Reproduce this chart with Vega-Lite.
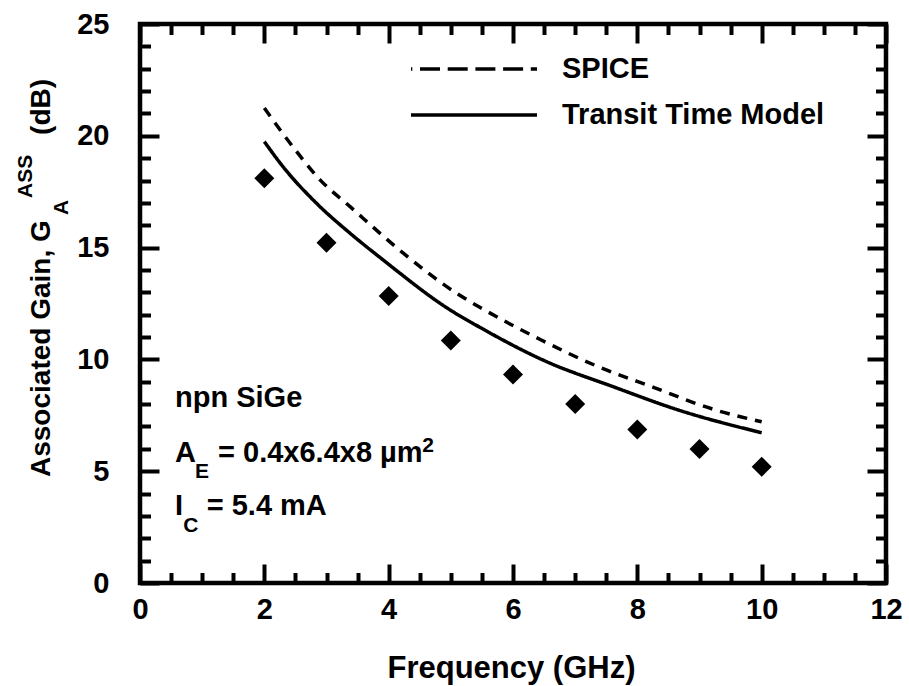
{
  "$schema": "https://vega.github.io/schema/vega-lite/v6.json",
  "width": 746,
  "height": 559,
  "autosize": {"type": "none"},
  "padding": {"left": 140, "top": 24, "right": 23, "bottom": 103},
  "background": "white",
  "config": {
    "view": {"stroke": "black", "strokeWidth": 4.5},
    "font": "Liberation Sans",
    "axis": {
      "grid": false,
      "domain": false,
      "tickColor": "black",
      "tickWidth": 4,
      "labelColor": "black",
      "labelFont": "Liberation Sans",
      "labelFontWeight": "bold",
      "labelFontSize": 29,
      "labelFlush": false,
      "labelOverlap": false,
      "titleColor": "black",
      "titleFont": "Liberation Sans",
      "titleFontWeight": "bold"
    }
  },
  "datasets": {
    "curves": [
      {"f": 2.0, "g": 21.24, "series": "SPICE"},
      {"f": 2.52, "g": 19.29, "series": "SPICE"},
      {"f": 2.9, "g": 18.02, "series": "SPICE"},
      {"f": 3.38, "g": 16.83, "series": "SPICE"},
      {"f": 4.24, "g": 14.74, "series": "SPICE"},
      {"f": 5.09, "g": 12.96, "series": "SPICE"},
      {"f": 5.55, "g": 12.2, "series": "SPICE"},
      {"f": 6.43, "g": 10.9, "series": "SPICE"},
      {"f": 7.35, "g": 9.7, "series": "SPICE"},
      {"f": 8.26, "g": 8.75, "series": "SPICE"},
      {"f": 9.22, "g": 7.77, "series": "SPICE"},
      {"f": 10.0, "g": 7.21, "series": "SPICE"},
      {"f": 2.0, "g": 19.74, "series": "Transit Time Model"},
      {"f": 2.3, "g": 18.62, "series": "Transit Time Model"},
      {"f": 2.84, "g": 16.98, "series": "Transit Time Model"},
      {"f": 3.38, "g": 15.64, "series": "Transit Time Model"},
      {"f": 3.91, "g": 14.45, "series": "Transit Time Model"},
      {"f": 4.99, "g": 12.21, "series": "Transit Time Model"},
      {"f": 5.47, "g": 11.43, "series": "Transit Time Model"},
      {"f": 6.54, "g": 9.9, "series": "Transit Time Model"},
      {"f": 7.61, "g": 8.78, "series": "Transit Time Model"},
      {"f": 8.69, "g": 7.71, "series": "Transit Time Model"},
      {"f": 10.0, "g": 6.72, "series": "Transit Time Model"}
    ],
    "meas": [
      {"f": 2, "g": 18.1},
      {"f": 3, "g": 15.22},
      {"f": 4, "g": 12.84},
      {"f": 5, "g": 10.85},
      {"f": 6, "g": 9.33},
      {"f": 7, "g": 8.0},
      {"f": 8, "g": 6.87},
      {"f": 9, "g": 5.99},
      {"f": 10, "g": 5.2}
    ],
    "notesBig": [
      {"x": 0.563, "y": 7.885, "t": "npn SiGe"},
      {"x": 0.563, "y": 5.425, "t": "A"},
      {"x": 1.255, "y": 5.425, "t": "= 0.4x6.4x8 µm"},
      {"x": 0.563, "y": 3.04, "t": "I"},
      {"x": 1.073, "y": 3.04, "t": "= 5.4 mA"}
    ],
    "notesSmall": [
      {"x": 0.885, "y": 4.68, "t": "E"},
      {"x": 0.697, "y": 2.295, "t": "C"},
      {"x": 4.54, "y": 5.87, "t": "2"}
    ],
    "ytitleBig": [
      {"x": -1.448, "y": 4.74, "t": "Associated Gain, G"},
      {"x": -1.448, "y": 20.04, "t": "(dB)"}
    ],
    "ytitleSmall": [
      {"x": -1.158, "y": 16.46, "t": "A"},
      {"x": -1.742, "y": 17.22, "t": "ASS"}
    ]
  },
  "resolve": {
    "scale": {"x": "shared", "y": "shared"},
    "axis": {"x": "independent", "y": "independent"}
  },
  "layer": [
    {
      "data": {"name": "curves"},
      "transform": [{"filter": "datum.series === 'Transit Time Model'"}],
      "mark": {"type": "line", "color": "black", "strokeWidth": 3.5, "interpolate": "monotone"},
      "encoding": {
        "x": {
          "field": "f", "type": "quantitative",
          "scale": {"domain": [0, 12], "nice": false, "zero": false},
          "axis": {
            "orient": "bottom", "values": [0, 2, 4, 6, 8, 10, 12],
            "tickSize": -19, "tickWidth": 4, "labelPadding": 31,
            "title": "Frequency (GHz)", "titleFontSize": 31,
            "titleX": 371, "titleY": 94, "titleBaseline": "alphabetic", "titleAlign": "center"
          }
        },
        "y": {
          "field": "g", "type": "quantitative",
          "scale": {"domain": [0, 25], "nice": false, "zero": false},
          "axis": {
            "orient": "left", "values": [0, 5, 10, 15, 20, 25],
            "tickSize": -19, "tickWidth": 4, "labelPadding": 50, "title": null
          }
        },
        "strokeDash": {
          "field": "series", "type": "nominal",
          "scale": {"domain": ["SPICE", "Transit Time Model"], "range": [[20, 7.7], [1, 0]]},
          "legend": {
            "orient": "none", "legendX": 269, "legendY": 29,
            "padding": 0, "title": null,
            "symbolType": "stroke", "symbolSize": 15876, "symbolStrokeWidth": 3.5,
            "symbolStrokeColor": "black", "symbolDashOffset": 18.7,
            "clipHeight": 32, "rowPadding": 14, "labelOffset": 23,
            "labelFont": "Liberation Sans", "labelFontWeight": "bold", "labelFontSize": 29,
            "labelColor": "black", "labelLimit": 0
          }
        }
      }
    },
    {
      "data": {"name": "curves"},
      "transform": [{"filter": "datum.series === 'SPICE'"}],
      "mark": {"type": "line", "color": "black", "strokeWidth": 3.5, "strokeDash": [10, 8], "interpolate": "monotone"},
      "encoding": {
        "x": {"field": "f", "type": "quantitative", "scale": {"domain": [0, 12], "nice": false, "zero": false}, "axis": null},
        "y": {"field": "g", "type": "quantitative", "scale": {"domain": [0, 25], "nice": false, "zero": false}, "axis": null}
      }
    },
    {
      "data": {"name": "meas"},
      "mark": {"type": "point", "shape": "diamond", "filled": true, "color": "black", "size": 400, "opacity": 1},
      "encoding": {
        "x": {
          "field": "f", "type": "quantitative",
          "scale": {"domain": [0, 12], "nice": false, "zero": false},
          "axis": {
            "orient": "bottom",
            "values": [0.5, 1, 1.5, 2.5, 3, 3.5, 4.5, 5, 5.5, 6.5, 7, 7.5, 8.5, 9, 9.5, 10.5, 11, 11.5],
            "tickSize": -10.5, "tickWidth": 4, "labels": false, "title": null
          }
        },
        "y": {
          "field": "g", "type": "quantitative",
          "scale": {"domain": [0, 25], "nice": false, "zero": false},
          "axis": {
            "orient": "left",
            "values": [1, 2, 3, 4, 6, 7, 8, 9, 11, 12, 13, 14, 16, 17, 18, 19, 21, 22, 23, 24],
            "tickSize": -10.5, "tickWidth": 4, "labels": false, "title": null
          }
        }
      }
    },
    {
      "data": {"name": "notesBig"},
      "mark": {"type": "text", "align": "left", "baseline": "alphabetic", "font": "Liberation Sans", "fontWeight": "bold", "fontSize": 29, "color": "black"},
      "encoding": {
        "x": {
          "field": "x", "type": "quantitative",
          "scale": {"domain": [0, 12], "nice": false, "zero": false},
          "axis": {"orient": "top", "values": [0, 2, 4, 6, 8, 10, 12], "tickSize": -19, "tickWidth": 4, "labels": false, "title": null}
        },
        "y": {
          "field": "y", "type": "quantitative",
          "scale": {"domain": [0, 25], "nice": false, "zero": false},
          "axis": {"orient": "right", "values": [0, 5, 10, 15, 20, 25], "tickSize": -19, "tickWidth": 4, "labels": false, "title": null}
        },
        "text": {"field": "t", "type": "nominal"}
      }
    },
    {
      "data": {"name": "notesSmall"},
      "mark": {"type": "text", "align": "left", "baseline": "alphabetic", "font": "Liberation Sans", "fontWeight": "bold", "fontSize": 21, "color": "black"},
      "encoding": {
        "x": {
          "field": "x", "type": "quantitative",
          "scale": {"domain": [0, 12], "nice": false, "zero": false},
          "axis": {
            "orient": "top",
            "values": [0.5, 1, 1.5, 2.5, 3, 3.5, 4.5, 5, 5.5, 6.5, 7, 7.5, 8.5, 9, 9.5, 10.5, 11, 11.5],
            "tickSize": -10.5, "tickWidth": 4, "labels": false, "title": null
          }
        },
        "y": {
          "field": "y", "type": "quantitative",
          "scale": {"domain": [0, 25], "nice": false, "zero": false},
          "axis": {
            "orient": "right",
            "values": [1, 2, 3, 4, 6, 7, 8, 9, 11, 12, 13, 14, 16, 17, 18, 19, 21, 22, 23, 24],
            "tickSize": -10.5, "tickWidth": 4, "labels": false, "title": null
          }
        },
        "text": {"field": "t", "type": "nominal"}
      }
    },
    {
      "data": {"name": "ytitleBig"},
      "mark": {"type": "text", "angle": 270, "align": "left", "baseline": "alphabetic", "font": "Liberation Sans", "fontWeight": "bold", "fontSize": 28, "color": "black"},
      "encoding": {
        "x": {"field": "x", "type": "quantitative", "scale": {"domain": [0, 12], "nice": false, "zero": false}, "axis": null},
        "y": {"field": "y", "type": "quantitative", "scale": {"domain": [0, 25], "nice": false, "zero": false}, "axis": null},
        "text": {"field": "t", "type": "nominal"}
      }
    },
    {
      "data": {"name": "ytitleSmall"},
      "mark": {"type": "text", "angle": 270, "align": "left", "baseline": "alphabetic", "font": "Liberation Sans", "fontWeight": "bold", "fontSize": 21, "color": "black"},
      "encoding": {
        "x": {"field": "x", "type": "quantitative", "scale": {"domain": [0, 12], "nice": false, "zero": false}, "axis": null},
        "y": {"field": "y", "type": "quantitative", "scale": {"domain": [0, 25], "nice": false, "zero": false}, "axis": null},
        "text": {"field": "t", "type": "nominal"}
      }
    }
  ]
}
